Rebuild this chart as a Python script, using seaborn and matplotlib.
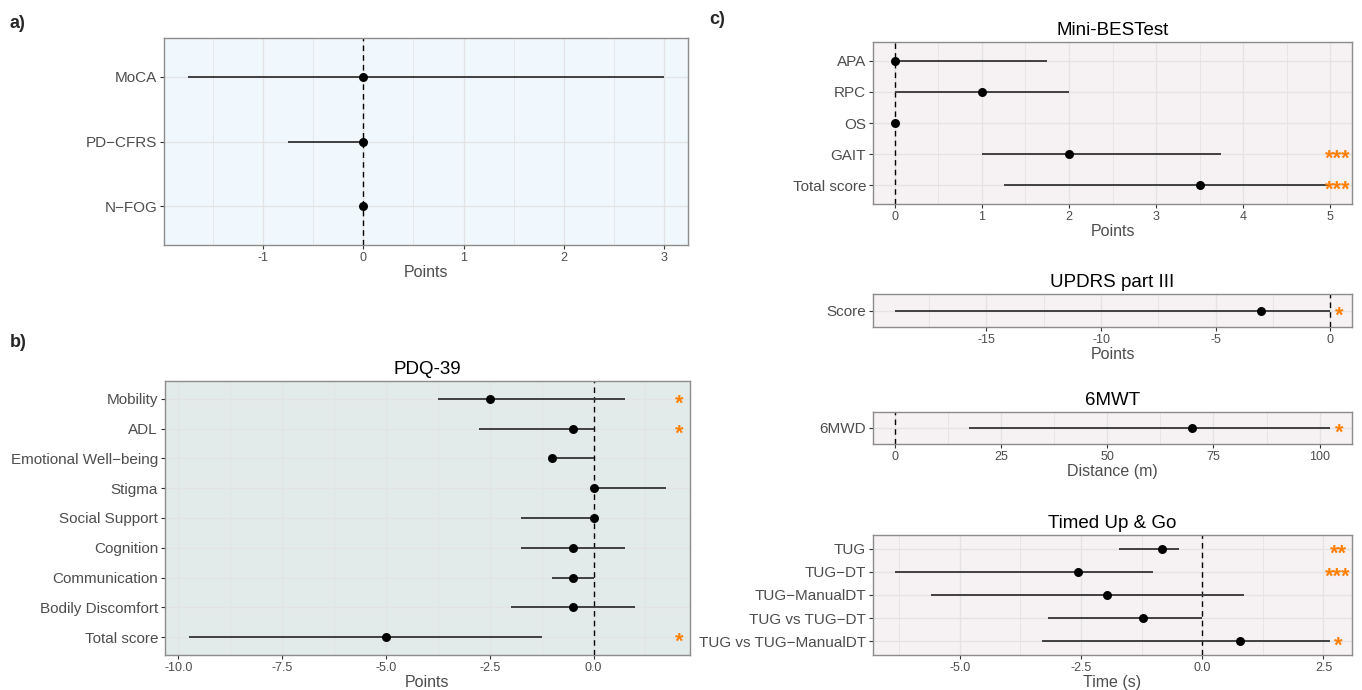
import numpy as np
import pandas as pd
import matplotlib
matplotlib.use("Agg")
import matplotlib.pyplot as plt
from matplotlib.ticker import MultipleLocator, FormatStrFormatter
from matplotlib.transforms import offset_copy
import seaborn as sns

# -----------------------------
# data
# -----------------------------
a_items = ["MoCA", "PD−CFRS", "N−FOG"]
a_est = [0, 0, 0]
a_lo = [-1.75, -0.75, 0]
a_hi = [3, 0, 0]
a_sig = ["", "", ""]

pdq_items = ["Mobility", "ADL", "Emotional Well−being", "Stigma", "Social Support",
             "Cognition", "Communication", "Bodily Discomfort", "Total score"]
pdq_est = [-2.5, -0.5, -1, 0, 0, -0.5, -0.5, -0.5, -5]
pdq_lo = [-3.75, -2.75, -1, 0, -1.75, -1.75, -1, -2, -9.75]
pdq_hi = [0.75, 0, 0, 1.75, 0, 0.75, 0, 1, -1.25]
pdq_sig = ["*", "*", "", "", "", "", "", "", "*"]

mini_items = ["APA", "RPC", "OS", "GAIT", "Total score"]
mini_est = [0, 1, 0, 2, 3.5]
mini_lo = [0, 0, 0, 1, 1.25]
mini_hi = [1.75, 2, 0, 3.75, 5]
mini_sig = ["", "", "", "***", "***"]

updrs_items = ["Score"]
updrs_est = [-3]
updrs_lo = [-19]
updrs_hi = [0]
updrs_sig = ["*"]

mwt_items = ["6MWD"]
mwt_est = [70]
mwt_lo = [17.5]
mwt_hi = [102.5]
mwt_sig = ["*"]

tug_items = ["TUG", "TUG−DT", "TUG−ManualDT", "TUG vs TUG−DT", "TUG vs TUG−ManualDT"]
tug_est = [-0.83, -2.57, -1.97, -1.22, 0.78]
tug_lo = [-1.71, -6.34, -5.59, -3.19, -3.30]
tug_hi = [-0.47, -1.02, 0.86, 0, 2.64]
tug_sig = ["**", "***", "", "", "*"]

# -----------------------------
# style
# -----------------------------
sns.set_style("ticks")
plt.rcParams["font.family"] = ["Liberation Sans", "DejaVu Sans"]
plt.rcParams["axes.unicode_minus"] = False

W, H = 1362, 690
BG_A = "#F0F7FD"
BG_B = "#E2EBE9"
BG_C = "#F6F1F3"
STAR = "#FF7F00"
GREY_TXT = "#4D4D4D"

fig = plt.figure(figsize=(W / 100, H / 100), dpi=100)


def box(x0, y0, x1, y1):
    # pixel box -> figure fraction
    return [x0 / W, 1 - y1 / H, (x1 - x0) / W, (y1 - y0) / H]


def forest(rect, items, est, lo, hi, sig, bg, major, xlabel, title=None, star_x=None):
    ax = fig.add_axes(box(*rect))
    df = pd.DataFrame({"item": items, "est": est, "lo": lo, "hi": hi, "sig": sig})
    df["pos"] = np.arange(len(df))

    ax.set_facecolor(bg)
    ax.xaxis.set_major_locator(MultipleLocator(major))
    ax.xaxis.set_minor_locator(MultipleLocator(major / 2))
    ax.grid(which="major", axis="x", color="#E3E3E3", lw=0.9, zorder=0)
    ax.grid(which="minor", axis="x", color="#E3E3E3", lw=0.6, zorder=0)
    ax.grid(which="major", axis="y", color="#E3E3E3", lw=0.9, zorder=0)
    ax.set_axisbelow(True)

    ax.axvline(0, color="black", lw=1, ls=(0, (4, 3)), zorder=1)
    ax.hlines(df["pos"], df["lo"], df["hi"], color="#3A3A3A", lw=1.35, zorder=2)
    sns.scatterplot(data=df, x="est", y="pos", ax=ax, color="black", s=42,
                    edgecolor="black", linewidth=0, zorder=3, legend=False)

    # ggplot-like 5% expansion, zero line trained into the scale
    xmin = min(df["lo"].min(), 0)
    xmax = max(df["hi"].max(), 0)
    r = xmax - xmin
    ax.set_xlim(xmin - 0.05 * r, xmax + 0.05 * r)
    ax.set_ylim(len(df) - 0.4, -0.6)
    ax.set_yticks(df["pos"], df["item"])

    if star_x is not None:
        tr = offset_copy(ax.transData, fig=fig, y=-2.0, units="points")
        for p, s in zip(df["pos"], df["sig"]):
            if s:
                ax.text(star_x, p, s, color=STAR, fontsize=15.5, fontweight="bold",
                        ha="center", va="center_baseline", zorder=4, transform=tr)

    for sp in ax.spines.values():
        sp.set_color("#8C8C8C")
        sp.set_linewidth(1)
    ax.tick_params(axis="both", which="major", length=3, width=0.8, color="#333333")
    ax.tick_params(axis="x", which="minor", length=0)
    ax.tick_params(axis="y", labelsize=11, labelcolor=GREY_TXT, pad=2)
    ax.tick_params(axis="x", labelsize=9, labelcolor=GREY_TXT, pad=2)
    ax.set_ylabel("")
    ax.set_xlabel(xlabel, fontsize=11.5, color=GREY_TXT, labelpad=1)
    if title:
        ax.set_title(title, fontsize=13.5, color="black", pad=5)
    return ax


ax_a = forest((164, 38, 688, 245), a_items, a_est, a_lo, a_hi, a_sig, BG_A, 1, "Points")
ax_b = forest((165, 381, 690, 655), pdq_items, pdq_est, pdq_lo, pdq_hi, pdq_sig, BG_B,
              2.5, "Points", "PDQ-39", star_x=2.06)
ax_b.xaxis.set_major_formatter(FormatStrFormatter("%.1f"))
ax_m = forest((873, 42, 1352, 204), mini_items, mini_est, mini_lo, mini_hi, mini_sig, BG_C,
              1, "Points", "Mini-BESTest", star_x=5.08)
ax_u = forest((873, 294, 1352, 327), updrs_items, updrs_est, updrs_lo, updrs_hi, updrs_sig,
              BG_C, 5, "Points", "UPDRS part III", star_x=0.4)
ax_w = forest((873, 412, 1352, 444), mwt_items, mwt_est, mwt_lo, mwt_hi, mwt_sig, BG_C,
              25, "Distance (m)", "6MWT", star_x=104.7)
ax_t = forest((873, 535, 1352, 655), tug_items, tug_est, tug_lo, tug_hi, tug_sig, BG_C,
              2.5, "Time (s)", "Timed Up & Go", star_x=2.8)
ax_t.xaxis.set_major_formatter(FormatStrFormatter("%.1f"))

# panel letters
for lx, ly, lab in [(10, 23, "a)"), (10, 343, "b)"), (709, 20, "c)")]:
    fig.text(lx / W, 1 - ly / H, lab, fontsize=13, fontweight="bold",
             ha="left", va="center")

fig.savefig("out.png", dpi=100)
